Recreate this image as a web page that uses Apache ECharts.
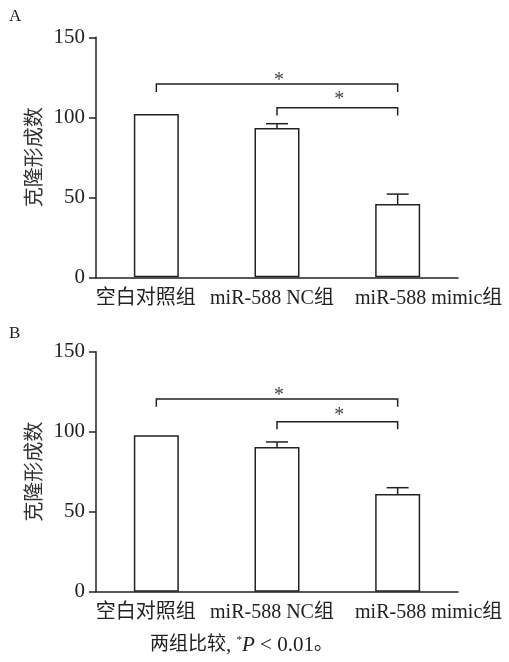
<!DOCTYPE html>
<html>
<head>
<meta charset="utf-8">
<script src="https://cdn.jsdelivr.net/npm/echarts@6/dist/echarts.min.js"></script>
<style>
  html, body { margin: 0; padding: 0; background: #fff; }
  #chart { width: 509px; height: 662px; }
</style>
</head>
<body>
<div id="chart"></div>
<script>
// Groups and tick labels
const categories = ['空白对照组', 'miR-588 NC组', 'miR-588 mimic组'];
const yTicks = [0, 50, 100, 150];

// Panel A: colony counts and upper error limits
const meanA = [102, 93.3, 45.8];
const errTopA = [null, 96, 52];
// Panel B
const meanB = [97.8, 90.4, 61.1];
const errTopB = [null, 93.6, 65];

// Significance brackets: [from group, to group, line level, end level, star level]
const bracketsA = [[0, 2, 120.8, 115.8, 125.4], [1, 2, 106, 101.2, 113.3]];
const bracketsB = [[0, 2, 120.4, 115.6, 125], [1, 2, 106.2, 101.5, 112.5]];

const INK = '#222';
const SERIF = '"Liberation Serif", "Noto Sans CJK SC", serif';

const chart = echarts.init(document.getElementById('chart'), null, { renderer: 'canvas' });

function xAxisFor(gridIndex) {
  return {
    type: 'category', gridIndex, data: categories,
    axisLine: { lineStyle: { color: INK, width: 1.5 } },
    axisTick: { alignWithLabel: true, length: 7, lineStyle: { color: INK, width: 1.5 } },
    axisLabel: {
      interval: 0, margin: 11, color: INK, fontSize: 20, fontFamily: SERIF,
      formatter: (v, i) => '{c' + i + '|' + v + '}',
      rich: {
        c0: { fontSize: 20, fontFamily: SERIF, color: INK, padding: [0, 21, 0, 0] },
        c1: { fontSize: 20, fontFamily: SERIF, color: INK, padding: [0, 10, 0, 0] },
        c2: { fontSize: 20, fontFamily: SERIF, color: INK, padding: [0, 0, 0, 62] }
      }
    },
    splitLine: { show: false },
    z: 3
  };
}

function yAxisFor(gridIndex) {
  return {
    type: 'value', gridIndex,
    min: yTicks[0], max: yTicks[yTicks.length - 1], interval: 50,
    name: '克隆形成数', nameLocation: 'middle', nameRotate: 90, nameGap: 50,
    nameMoveOverlap: false,
    nameTextStyle: { fontSize: 20, fontFamily: SERIF, color: '#333' },
    axisLine: { show: true, lineStyle: { color: INK, width: 1.5 } },
    axisTick: { show: true, length: 7, lineStyle: { color: INK, width: 1.5 } },
    axisLabel: { margin: 11, color: INK, fontSize: 21, fontFamily: SERIF },
    splitLine: { show: false }
  };
}

function barSeries(idx, values) {
  return {
    type: 'bar', xAxisIndex: idx, yAxisIndex: idx, data: values,
    barWidth: 45,
    itemStyle: { color: '#fff', borderColor: INK, borderWidth: 1.5 },
    silent: true, z: 2
  };
}

function errorSeries(idx, means, tops) {
  const data = [];
  means.forEach((m, i) => { if (tops[i] != null) data.push([i, m, tops[i]]); });
  return {
    type: 'custom', xAxisIndex: idx, yAxisIndex: idx, data, z: 3, silent: true,
    renderItem: (params, api) => {
      const base = api.coord([api.value(0), api.value(1)]);
      const top = api.coord([api.value(0), api.value(2)]);
      const half = 11;
      const style = { stroke: INK, lineWidth: 1.5 };
      return {
        type: 'group',
        children: [
          { type: 'line', shape: { x1: base[0], y1: base[1], x2: top[0], y2: top[1] }, style },
          { type: 'line', shape: { x1: top[0] - half, y1: top[1], x2: top[0] + half, y2: top[1] }, style }
        ]
      };
    }
  };
}

function bracketSeries(idx, brackets) {
  return {
    type: 'custom', xAxisIndex: idx, yAxisIndex: idx, data: brackets, z: 3, silent: true,
    renderItem: (params, api) => {
      const a = api.coord([api.value(0), api.value(2)]);
      const b = api.coord([api.value(1), api.value(2)]);
      const endY = api.coord([api.value(0), api.value(3)])[1];
      const starY = api.coord([api.value(0), api.value(4)])[1];
      return {
        type: 'group',
        children: [
          {
            type: 'polyline',
            shape: { points: [[a[0], endY], [a[0], a[1]], [b[0], b[1]], [b[0], endY]] },
            style: { stroke: INK, lineWidth: 1.5, fill: null }
          },
          {
            type: 'text',
            style: {
              text: '*', x: (a[0] + b[0]) / 2 + 2, y: starY + 4,
              align: 'center', verticalAlign: 'middle',
              fontSize: 20, fontFamily: SERIF, fill: '#444'
            }
          }
        ]
      };
    }
  };
}

chart.setOption({
  backgroundColor: '#fff',
  animation: false,
  grid: [
    { left: 96, top: 37.3, width: 362, height: 240 },
    { left: 96, top: 351.7, width: 362, height: 240 }
  ],
  xAxis: [xAxisFor(0), xAxisFor(1)],
  yAxis: [yAxisFor(0), yAxisFor(1)],
  series: [
    barSeries(0, meanA), errorSeries(0, meanA, errTopA), bracketSeries(0, bracketsA),
    barSeries(1, meanB), errorSeries(1, meanB, errTopB), bracketSeries(1, bracketsB)
  ],
  graphic: [
    { type: 'text', left: 9, top: 8, style: { text: 'A', fontSize: 17, fontFamily: SERIF, fill: INK } },
    { type: 'text', left: 9, top: 325, style: { text: 'B', fontSize: 17, fontFamily: SERIF, fill: INK } },
    {
      type: 'text', left: 150, top: 635,
      style: {
        text: '{cjk|两组比较}{lat|, }{sup|*}{it|P}{lat| < 0.01}{cjk|。}',
        fontSize: 19, fontFamily: SERIF, fill: INK,
        rich: {
          cjk: { fontSize: 19, fontFamily: SERIF, fill: INK },
          lat: { fontSize: 21, fontFamily: SERIF, fill: INK },
          sup: { fontSize: 11, fontFamily: SERIF, fill: INK, verticalAlign: 'top', padding: [0, 0, 8, 0] },
          it: { fontSize: 21, fontFamily: SERIF, fontStyle: 'italic', fill: INK }
        }
      }
    }
  ]
});
</script>
</body>
</html>
